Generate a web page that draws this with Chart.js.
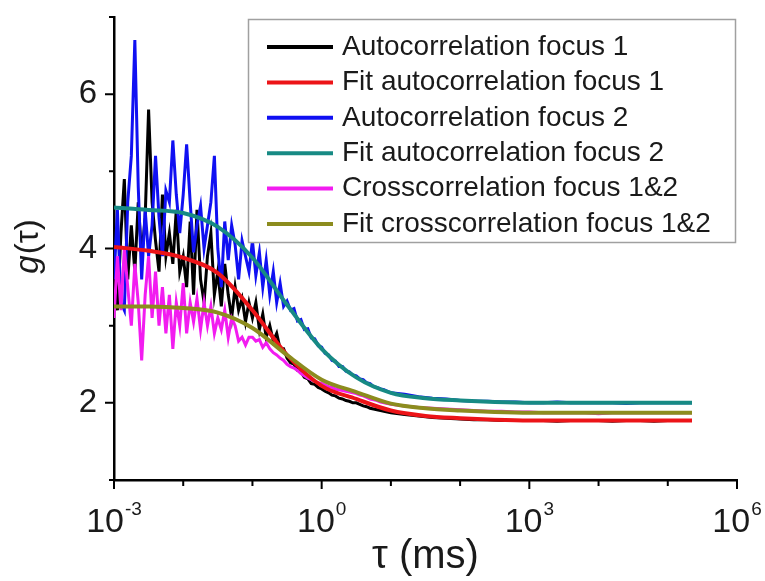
<!DOCTYPE html>
<html lang="en">
<head>
<meta charset="UTF-8">
<title>FCS correlation curves</title>
<script src="https://cdn.jsdelivr.net/npm/chart.js"></script>
<style>
  html, body { margin: 0; padding: 0; background: #fff; }
  canvas { display: block; }
</style>
</head>
<body>
<canvas id="fcsChart" width="765" height="581"></canvas>
<script>
  const FONT = "'Liberation Sans', Arial, Helvetica, sans-serif";

  // lag times (ms) of the measured curves
  const tauData = [
    0.001, 0.00112, 0.00126, 0.00141, 0.00158, 0.00178, 0.002, 0.00224, 0.00251, 0.00282,
    0.00316, 0.00355, 0.00398, 0.00447, 0.00501, 0.00562, 0.00631, 0.00708, 0.00794, 0.00891,
    0.01, 0.0112, 0.0126, 0.0141, 0.0158, 0.0178, 0.02, 0.0224, 0.0251, 0.0282,
    0.0316, 0.0355, 0.0398, 0.0447, 0.0501, 0.0562, 0.0631, 0.0708, 0.0794, 0.0891,
    0.1, 0.112, 0.126, 0.141, 0.158, 0.178, 0.2, 0.224, 0.251, 0.282,
    0.316, 0.355, 0.398, 0.447, 0.501, 0.562, 0.631, 0.708, 0.794, 0.891,
    1, 1.12, 1.26, 1.41, 1.58, 1.78, 2, 2.24, 2.51, 2.82,
    3.16, 3.55, 3.98, 4.47, 5.01, 5.62, 6.31, 7.08, 7.94, 8.91,
    10,
    15.8, 25.1, 39.8, 63.1, 100, 158, 251, 398, 631, 1000,
    1585, 2512, 3981, 6310, 10000, 15850, 25120, 39810, 63100, 100000,
    158500, 224000
  ];

  const acfFocus1 = [
    3.5, 3.2, 4.2, 4.9, 3.6, 4.3, 3.7, 4.6, 3.9, 4.4,
    5.8, 4.6, 4.1, 3.7, 4.7, 3.9, 4.2, 3.8, 4.5, 3.7,
    3.9, 3.5, 4.35, 3.4, 4.5, 3.6, 3.3, 3.9, 4.2, 3.4,
    3.7, 3.25, 3.8, 3.4, 3.1, 3.5, 3.2, 3.35, 3.05, 3.3,
    3.1, 3.3, 2.95, 3.15, 2.85, 3.0, 2.8, 2.9, 2.7, 2.7,
    2.58, 2.52, 2.5, 2.42, 2.4, 2.33, 2.31, 2.25, 2.24, 2.2,
    2.18, 2.15, 2.13, 2.1, 2.09, 2.06, 2.05, 2.03, 2.02, 2.0,
    2.0, 1.98, 1.96, 1.95, 1.93, 1.92, 1.91, 1.9, 1.89, 1.88,
    1.87,
    1.85, 1.83, 1.81, 1.8, 1.79, 1.78, 1.78, 1.77, 1.77, 1.77,
    1.77, 1.76, 1.77, 1.77, 1.77, 1.76, 1.77, 1.77, 1.76, 1.77,
    1.77, 1.77
  ];

  const acfFocus2 = [
    3.6, 4.5, 3.3, 3.2, 4.6, 5.2, 6.7, 4.8, 3.6, 4.5,
    3.9, 4.3, 5.2, 4.4, 3.9, 4.75, 4.6, 5.4, 4.7, 4.2,
    4.7, 5.35, 4.6, 3.95, 4.3, 4.55, 4.0, 4.3, 4.6, 5.2,
    4.0, 3.5, 4.35, 3.85, 4.3, 4.05, 3.6, 4.1, 3.9, 3.7,
    4.1, 3.65, 3.95, 3.5, 3.85, 3.4, 3.7, 3.3, 3.55, 3.25,
    3.32, 3.2, 3.22, 3.06, 3.08, 2.95, 2.96, 2.84, 2.83, 2.74,
    2.72, 2.64, 2.62, 2.55, 2.54, 2.47, 2.47, 2.41, 2.4, 2.36,
    2.35, 2.31, 2.3, 2.26, 2.25, 2.21, 2.2, 2.18, 2.17, 2.15,
    2.13,
    2.11, 2.08, 2.06, 2.05, 2.03, 2.02, 2.02, 2.01, 2.01, 2.0,
    2.0, 2.01, 2.0, 2.0, 2.0, 2.0, 1.99, 2.0, 2.0, 2.0,
    2.0, 2.0
  ];

  const ccf12 = [
    3.1, 3.9, 3.2, 4.0, 3.5, 3.0, 3.8, 3.3, 2.55, 3.4,
    3.9, 3.1, 3.7, 3.0, 3.5, 2.9, 3.4, 2.7, 3.3, 3.0,
    3.55, 2.9, 3.3, 3.05, 3.35, 2.95, 3.3, 3.0, 3.25, 2.9,
    3.1, 2.95, 3.2, 2.85, 3.1, 3.0, 2.8, 2.85, 2.75, 2.85,
    2.85, 2.8, 2.82, 2.72, 2.78, 2.7, 2.65, 2.62, 2.58, 2.55,
    2.5, 2.47, 2.45, 2.42, 2.38, 2.35, 2.32, 2.3, 2.28, 2.26,
    2.25, 2.23, 2.21, 2.2, 2.18, 2.17, 2.16, 2.15, 2.14, 2.13,
    2.12, 2.1, 2.09, 2.07, 2.05, 2.04, 2.03, 2.01, 2.0, 1.99,
    1.98,
    1.96, 1.94, 1.93, 1.92, 1.91, 1.9, 1.89, 1.89, 1.88, 1.88,
    1.87, 1.87, 1.87, 1.87, 1.86, 1.87, 1.87, 1.87, 1.87, 1.87,
    1.87, 1.87
  ];

  // fitted model curves, sampled every half decade
  const tauFit = [0.001, 0.00316, 0.01, 0.0316, 0.1, 0.316, 1, 3.16, 10, 31.6, 100, 316, 1000, 10000, 100000, 224000];
  const fitFocus1 = [4.02, 3.97, 3.88, 3.68, 3.2, 2.62, 2.22, 2.05, 1.9, 1.83, 1.8, 1.78, 1.77, 1.77, 1.77, 1.77];
  const fitFocus2 = [4.53, 4.5, 4.46, 4.28, 3.88, 3.27, 2.7, 2.33, 2.13, 2.06, 2.03, 2.01, 2.0, 2.0, 2.0, 2.0];
  const fitCross = [3.25, 3.25, 3.23, 3.17, 2.97, 2.62, 2.3, 2.14, 1.99, 1.93, 1.9, 1.88, 1.87, 1.87, 1.87, 1.87];

  const xTickExp = [-3, -2, -1, 0, 1, 2, 3, 4, 5, 6];
  const xLabelExp = [-3, 0, 3, 6];
  const yTicks = [1, 2, 3, 4, 5, 6, 7];
  const yLabels = [2, 4, 6];

  const pairs = (xs, ys) => xs.map((t, i) => ({ x: t, y: ys[i] }));

  function dataLine(label, color, values, order) {
    return {
      label, order,
      data: pairs(tauData, values),
      borderColor: color,
      borderWidth: 3,
      pointRadius: 0,
      tension: 0
    };
  }

  function fitLine(label, color, values, order) {
    return {
      label, order,
      data: pairs(tauFit, values),
      borderColor: color,
      borderWidth: 4,
      pointRadius: 0,
      cubicInterpolationMode: 'monotone'
    };
  }

  // ticks, tick labels, y title and the boxed legend
  const decor = {
    id: 'decor',
    afterDraw(chart) {
      const { ctx, chartArea: area, scales: { x, y } } = chart;
      ctx.save();

      ctx.strokeStyle = '#000';
      ctx.lineWidth = 2;
      ctx.beginPath();
      xTickExp.forEach(e => {
        const px = x.getPixelForValue(Math.pow(10, e));
        const len = e % 3 === 0 ? 9 : 6;
        ctx.moveTo(px, area.bottom);
        ctx.lineTo(px, area.bottom + len);
      });
      yTicks.forEach(v => {
        const py = y.getPixelForValue(v);
        const len = v % 2 === 0 ? 9 : 5;
        ctx.moveTo(area.left, py);
        ctx.lineTo(area.left - len, py);
      });
      ctx.stroke();

      ctx.fillStyle = '#1a1a1a';
      ctx.textAlign = 'left';
      ctx.textBaseline = 'alphabetic';
      xLabelExp.forEach(e => {
        const px = x.getPixelForValue(Math.pow(10, e));
        const sup = String(e);
        ctx.font = `34px ${FONT}`;
        const wb = ctx.measureText('10').width;
        ctx.font = `19px ${FONT}`;
        const ws = ctx.measureText(sup).width;
        const left = px - (wb + ws + 1) / 2;
        ctx.font = `34px ${FONT}`;
        ctx.fillText('10', left, 532);
        ctx.font = `19px ${FONT}`;
        ctx.fillText(sup, left + wb + 1, 515);
      });

      ctx.font = `33px ${FONT}`;
      ctx.textAlign = 'right';
      ctx.textBaseline = 'middle';
      yLabels.forEach(v => ctx.fillText(String(v), 97, y.getPixelForValue(v)));

      // y title: italic g followed by (τ)
      ctx.save();
      ctx.translate(29, 247);
      ctx.rotate(-Math.PI / 2);
      ctx.textAlign = 'left';
      ctx.font = `italic 33px ${FONT}`;
      const wg = ctx.measureText('g').width;
      ctx.font = `33px ${FONT}`;
      const wr = ctx.measureText('(τ)').width;
      const sx = -(wg + wr) / 2;
      ctx.font = `italic 33px ${FONT}`;
      ctx.fillText('g', sx, 0);
      ctx.font = `33px ${FONT}`;
      ctx.fillText('(τ)', sx + wg + 1, 0);
      ctx.restore();

      // legend
      const box = { x: 248, y: 19, w: 487, h: 223 };
      ctx.fillStyle = '#fff';
      ctx.fillRect(box.x, box.y, box.w, box.h);
      ctx.strokeStyle = '#a0a0a0';
      ctx.lineWidth = 1.5;
      ctx.strokeRect(box.x + 0.5, box.y + 0.5, box.w, box.h);
      ctx.font = `28px ${FONT}`;
      ctx.textAlign = 'left';
      ctx.textBaseline = 'middle';
      chart.data.datasets.forEach((ds, i) => {
        const ry = 47 + i * 35.4;
        ctx.strokeStyle = ds.borderColor;
        ctx.lineWidth = 4;
        ctx.beginPath();
        ctx.moveTo(267, ry);
        ctx.lineTo(333, ry);
        ctx.stroke();
        ctx.fillStyle = '#1a1a1a';
        ctx.fillText(ds.label, 342, ry);
      });

      ctx.restore();
    }
  };

  new Chart(document.getElementById('fcsChart'), {
    type: 'line',
    data: {
      datasets: [
        dataLine('Autocorrelation focus 1', '#000000', acfFocus1, 6),
        fitLine('Fit autocorrelation focus 1', '#ec1418', fitFocus1, 3),
        dataLine('Autocorrelation focus 2', '#1010f2', acfFocus2, 5),
        fitLine('Fit autocorrelation focus 2', '#178a84', fitFocus2, 2),
        dataLine('Crosscorrelation focus 1&2', '#f21cf0', ccf12, 4),
        fitLine('Fit crosscorrelation focus 1&2', '#8c8c1e', fitCross, 1)
      ]
    },
    options: {
      responsive: false,
      animation: false,
      devicePixelRatio: 1,
      layout: { padding: { top: 17, right: 28, left: 0, bottom: 0 } },
      plugins: {
        legend: { display: false },
        tooltip: { enabled: false }
      },
      scales: {
        x: {
          type: 'logarithmic',
          min: 0.001,
          max: 1000000,
          grid: { display: false, drawTicks: false },
          border: { color: '#000', width: 2.5 },
          ticks: { display: false },
          title: {
            display: true,
            text: 'τ (ms)',
            color: '#1a1a1a',
            font: { family: FONT, size: 40 },
            padding: { top: 0, bottom: 0 }
          },
          afterFit: s => { s.height = 101; }
        },
        y: {
          type: 'linear',
          min: 1,
          max: 7,
          grid: { display: false, drawTicks: false },
          border: { color: '#000', width: 2.5 },
          ticks: { display: false },
          afterFit: s => { s.width = 114; }
        }
      }
    },
    plugins: [decor]
  });
</script>
</body>
</html>
